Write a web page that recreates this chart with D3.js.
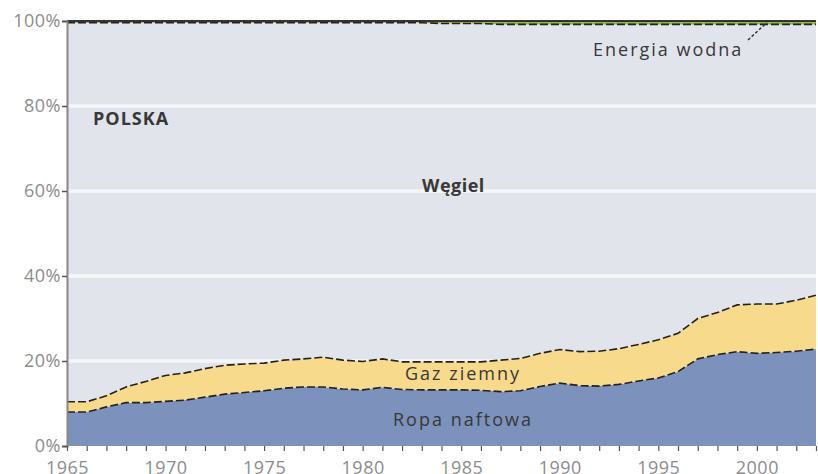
<!DOCTYPE html>
<html>
<head>
<meta charset="utf-8">
<script src="https://cdn.jsdelivr.net/npm/d3@7"></script>
<style>
  html, body { margin: 0; padding: 0; background: #fff; }
  svg { display: block; }
  text { font-family: "Open Sans", "Noto Sans", sans-serif; }
</style>
</head>
<body>
<svg id="chart" width="818" height="474"></svg>
<script>
// Struktura zużycia energii pierwotnej w Polsce, udział procentowy
const years = d3.range(1965, 2004);
const oil   = [8.0, 8.0, 9.2, 10.2, 10.2, 10.5, 10.8, 11.5, 12.2, 12.6,
               13.0, 13.6, 13.9, 13.9, 13.4, 13.2, 13.8, 13.3, 13.2, 13.2,
               13.2, 13.1, 12.8, 13.0, 14.0, 14.8, 14.2, 14.1, 14.5, 15.3,
               16.0, 17.5, 20.5, 21.5, 22.2, 21.8, 22.0, 22.3, 22.8];
const gas   = [2.4, 2.4, 2.6, 3.7, 5.0, 6.1, 6.4, 6.7, 6.8, 6.7,
               6.5, 6.6, 6.6, 7.0, 6.8, 6.7, 6.7, 6.5, 6.6, 6.6,
               6.6, 6.7, 7.4, 7.6, 7.8, 7.9, 8.0, 8.2, 8.4, 8.6,
               9.0, 9.0, 9.5, 9.9, 11.0, 11.6, 11.4, 12.0, 12.7];
const coal  = [89.2, 89.2, 87.8, 85.7, 84.4, 83.0, 82.4, 81.4, 80.6, 80.3,
               80.1, 79.4, 79.1, 78.7, 79.4, 79.7, 79.1, 79.8, 79.8, 79.6,
               79.6, 79.6, 79.0, 78.6, 77.4, 76.5, 77.0, 76.9, 76.3, 75.3,
               74.2, 72.7, 69.2, 67.8, 66.0, 65.8, 65.8, 64.9, 63.7];
const hydro = [0.4, 0.4, 0.4, 0.4, 0.4, 0.4, 0.4, 0.4, 0.4, 0.4,
               0.4, 0.4, 0.4, 0.4, 0.4, 0.4, 0.4, 0.4, 0.4, 0.6,
               0.6, 0.6, 0.8, 0.8, 0.8, 0.8, 0.8, 0.8, 0.8, 0.8,
               0.8, 0.8, 0.8, 0.8, 0.8, 0.8, 0.8, 0.8, 0.8];

const yTicks = [0, 20, 40, 60, 80, 100];
const xLabelYears = [1965, 1970, 1975, 1980, 1985, 1990, 1995, 2000];

const seriesKeys = ["oil", "gas", "coal", "hydro"];
const colors = { oil: "#7d91bd", gas: "#f8da8c", coal: "#e2e4eb", hydro: "#93b24c" };

const table = years.map((yr, i) => ({
  year: yr, oil: oil[i], gas: gas[i], coal: coal[i], hydro: hydro[i]
}));

const svg = d3.select("#chart");
const x = d3.scaleLinear().domain([1965, 2003]).range([67, 816]);
const y = d3.scaleLinear().domain([0, 100]).range([446, 21]);

const stacked = d3.stack().keys(seriesKeys)(table);
const byKey = Object.fromEntries(stacked.map(s => [s.key, s]));

const area = d3.area()
  .x(d => x(d.data.year))
  .y0(d => y(d[0]))
  .y1(d => y(d[1]));

const topLine = d3.line()
  .x(d => x(d.data.year))
  .y(d => y(d[1]));

// coal first so the grid can sit on it, under the oil and gas layers
svg.append("path").datum(byKey.coal).attr("d", area).attr("fill", colors.coal);

svg.append("g").selectAll("line")
  .data(yTicks.filter(t => t > 0 && t < 100))
  .join("line")
  .attr("x1", x(1965)).attr("x2", x(2003))
  .attr("y1", d => y(d)).attr("y2", d => y(d))
  .attr("stroke", "#ffffff").attr("stroke-width", 3.5).attr("opacity", 0.7);

["oil", "gas", "hydro"].forEach(k => {
  svg.append("path").datum(byKey[k]).attr("d", area).attr("fill", colors[k]);
});

// dashed boundaries on top of the oil, gas and coal layers
["oil", "gas", "coal"].forEach(k => {
  svg.append("path").datum(byKey[k]).attr("d", topLine)
    .attr("fill", "none").attr("stroke", "#222")
    .attr("stroke-width", 1.6).attr("stroke-dasharray", "8,3");
});

// top edge at 100%
svg.append("line")
  .attr("x1", x(1965)).attr("x2", x(2003))
  .attr("y1", y(100)).attr("y2", y(100))
  .attr("stroke", "#333").attr("stroke-width", 2);

// y axis
const yAxis = d3.axisLeft(y).tickValues(yTicks)
  .tickFormat(d => d + "%").tickSize(5).tickPadding(1);
const gy = svg.append("g").attr("transform", `translate(${x(1965)},0)`).call(yAxis);
gy.select(".domain").attr("stroke", "#8a8682").attr("stroke-width", 2);
gy.selectAll(".tick line").attr("stroke", "#555").attr("stroke-width", 1.5);
gy.selectAll(".tick text")
  .attr("fill", "#8c8c8c").attr("font-size", 18).attr("letter-spacing", 0.5)
  .style("font-family", "'Open Sans', sans-serif");

// x axis: a tick for every year, labels every five years
const xAxisTicks = d3.axisBottom(x).tickValues(years).tickSize(5).tickFormat("");
const gx = svg.append("g").attr("transform", `translate(0,${y(0)})`).call(xAxisTicks);
gx.select(".domain").remove();
gx.selectAll(".tick line").attr("stroke", "#555").attr("stroke-width", 1.2);

const xAxisLabels = d3.axisBottom(x).tickValues(xLabelYears).tickSize(0)
  .tickPadding(15).tickFormat(d3.format("d"));
const gxl = svg.append("g").attr("transform", `translate(0,${y(0)})`).call(xAxisLabels);
gxl.select(".domain").remove();
gxl.selectAll(".tick text")
  .attr("fill", "#8c8c8c").attr("font-size", 18).attr("letter-spacing", 0.5)
  .style("font-family", "'Open Sans', sans-serif");

// labels
const labels = [
  { text: "POLSKA",        x: 93,  y: 125, weight: 700, ls: 1 },
  { text: "Węgiel",        x: 422, y: 192, weight: 700, ls: 0.5 },
  { text: "Gaz ziemny",    x: 405, y: 380, weight: 400, ls: 2 },
  { text: "Ropa naftowa",  x: 393, y: 426, weight: 400, ls: 2 },
  { text: "Energia wodna", x: 593, y: 56,  weight: 400, ls: 2 }
];
svg.append("g").selectAll("text")
  .data(labels)
  .join("text")
  .attr("x", d => d.x).attr("y", d => d.y)
  .attr("font-size", 18)
  .attr("font-weight", d => d.weight)
  .attr("letter-spacing", d => d.ls)
  .attr("fill", "#383838")
  .text(d => d.text);

// leader from the hydro label to its thin layer
svg.append("line")
  .attr("x1", 748).attr("y1", 40)
  .attr("x2", x(2000.5)).attr("y2", y(99.6))
  .attr("stroke", "#333").attr("stroke-width", 1.5).attr("stroke-dasharray", "3,2");
</script>
</body>
</html>
